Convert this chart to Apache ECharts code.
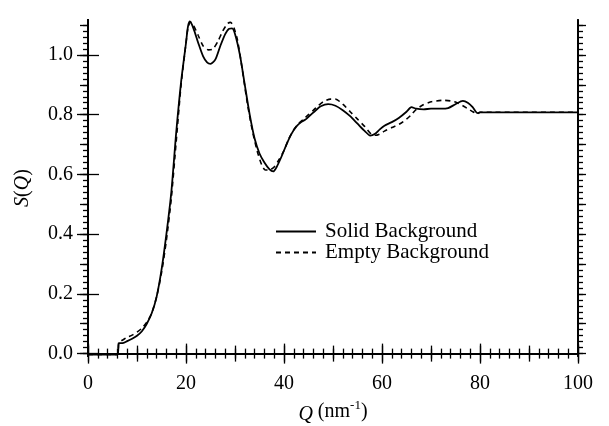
<!DOCTYPE html>
<html>
<head>
<meta charset="utf-8">
<script src="https://cdn.jsdelivr.net/npm/echarts@6/dist/echarts.min.js"></script>
<style>
  html, body { margin: 0; padding: 0; background: #fff; }
  #main { width: 609px; height: 426px; }
</style>
</head>
<body>
<div id="main"></div>
<script>
var chartDom = document.getElementById('main');
var myChart = echarts.init(chartDom);
var option;

// S(Q) with solid background subtraction: [Q, S]
var solidData = [
  [0, -0.003], [6.0, -0.003], [6.3, 0.035], [7, 0.035], [8, 0.042], [9, 0.05],
  [10, 0.06], [11, 0.075], [12, 0.1], [13, 0.135], [14, 0.19], [15, 0.28],
  [16, 0.4], [17, 0.54], [18, 0.74], [19, 0.91], [20, 1.04], [20.4, 1.095],
  [20.8, 1.112], [21.5, 1.09], [22.5, 1.04], [23.5, 0.995], [24.3, 0.975],
  [25, 0.97], [26, 0.985], [27, 1.03], [28, 1.07], [28.8, 1.088], [29.4, 1.089],
  [30, 1.07], [31, 1.0], [32, 0.9], [33, 0.8], [34, 0.72], [35, 0.67],
  [36, 0.64], [37, 0.618], [37.8, 0.61], [38.5, 0.625], [39.5, 0.66],
  [40.5, 0.7], [41.5, 0.735], [42.5, 0.76], [43.5, 0.775], [44.5, 0.785],
  [45.5, 0.8], [46.5, 0.815], [47.5, 0.828], [49, 0.835], [50.5, 0.83],
  [52, 0.815], [53.5, 0.795], [55, 0.77], [56.5, 0.745], [57.6, 0.73],
  [58.5, 0.735], [59.5, 0.75], [60.5, 0.763], [62, 0.775], [63.5, 0.79],
  [65, 0.81], [66, 0.825], [67, 0.82], [68.5, 0.818], [70, 0.82], [72, 0.82],
  [73.5, 0.822], [75, 0.835], [76.5, 0.846], [77.5, 0.84], [78.5, 0.825],
  [79.5, 0.805], [80, 0.808], [100, 0.808]
];

// S(Q) with empty background subtraction: [Q, S]
var emptyData = [
  [0, -0.003], [6.0, -0.003], [6.3, 0.04], [7, 0.045], [8, 0.055], [9, 0.062],
  [10, 0.072], [11, 0.085], [12, 0.105], [13, 0.135], [14, 0.19], [15, 0.27],
  [16, 0.38], [17, 0.52], [18, 0.71], [19, 0.9], [20, 1.04], [20.4, 1.09],
  [20.9, 1.11], [21.5, 1.1], [22.5, 1.065], [23.5, 1.03], [24.6, 1.017],
  [25.5, 1.02], [26.5, 1.045], [27.5, 1.08], [28.5, 1.105], [29.1, 1.109],
  [29.8, 1.09], [30.5, 1.05], [31.5, 0.95], [32.5, 0.84], [33.5, 0.75],
  [34.5, 0.68], [35.5, 0.63], [36.2, 0.615], [37, 0.615], [38, 0.625],
  [39, 0.65], [40, 0.68], [41, 0.72], [42, 0.75], [43, 0.77], [44, 0.785],
  [45, 0.8], [46, 0.815], [47, 0.83], [48, 0.843], [49.5, 0.852], [50.5, 0.852],
  [52, 0.835], [53.5, 0.81], [55, 0.785], [56.5, 0.76], [57.8, 0.735],
  [58.6, 0.731], [59.5, 0.735], [60.5, 0.745], [62, 0.757], [63.5, 0.768],
  [65, 0.785], [66, 0.8], [67, 0.818], [68.4, 0.833], [70, 0.843], [72.5, 0.848],
  [74, 0.846], [75.2, 0.841], [76.5, 0.83], [77.5, 0.82], [78.3, 0.812],
  [79.5, 0.803], [80, 0.808], [100, 0.808]
];

var seriesNames = ['Solid Background', 'Empty Background'];
var yLabelValues = [0, 0.2, 0.4, 0.6, 0.8, 1.0];
var yMin = -0.008;
var yMax = 1.117;

var yMidValues = [];
var yMinorValues = [];
for (var k = 0; k <= 55; k++) {
  yMinorValues.push(Math.round(k * 2) / 100);
  if (k % 5 === 0) yMidValues.push(Math.round(k * 2) / 100);
}

var font = 'Liberation Serif, Times New Roman, serif';
var axisLine = { show: true, lineStyle: { color: '#000', width: 1.8 } };

function tickAxis(position, values, len) {
  return {
    type: 'value', position: position, min: yMin, max: yMax,
    axisLine: axisLine,
    splitLine: { show: false },
    axisLabel: { show: false },
    axisTick: { show: true, customValues: values, length: len, lineStyle: { color: '#000', width: 1.3 } }
  };
}

function xTickAxis(position, interval, len, minor) {
  return {
    type: 'value', position: position, min: 0, max: 100, interval: interval,
    axisLine: axisLine,
    splitLine: { show: false },
    axisLabel: { show: false },
    axisTick: { show: true, length: len, lineStyle: { color: '#000', width: 1.3 } },
    minorTick: { show: minor, splitNumber: 10, length: 5, lineStyle: { color: '#000', width: 1.3 } },
    minorSplitLine: { show: false }
  };
}

option = {
  animation: false,
  backgroundColor: '#fff',
  grid: { left: 88, right: 31, top: 20, bottom: 70, containLabel: false, outerBoundsMode: 'none' },
  legend: {
    data: seriesNames,
    orient: 'vertical',
    left: 275,
    top: 221,
    padding: 0,
    itemWidth: 40,
    itemHeight: 20,
    itemGap: 0,
    itemStyle: { opacity: 0 },
    textStyle: { fontFamily: font, fontSize: 21, color: '#000', padding: [0, 0, 0, 4] }
  },
  xAxis: [
    {
      type: 'value', position: 'bottom', min: 0, max: 100, interval: 20,
      name: '{i|Q} (nm{sup|-1})',
      nameLocation: 'middle',
      nameGap: 40,
      nameTextStyle: {
        fontFamily: font, fontSize: 20, color: '#000',
        rich: {
          i: { fontFamily: font, fontSize: 20, fontStyle: 'italic', color: '#000', lineHeight: 26, verticalAlign: 'bottom' },
          sup: { fontFamily: font, fontSize: 13, color: '#000', verticalAlign: 'top', lineHeight: 13 }
        }
      },
      axisLine: axisLine,
      splitLine: { show: false },
      axisLabel: { fontFamily: font, fontSize: 20, color: '#000', margin: 18 },
      axisTick: { show: true, length: 10, lineStyle: { color: '#000', width: 1.3 } },
      minorTick: { show: true, splitNumber: 10, length: 5, lineStyle: { color: '#000', width: 1.3 } },
      minorSplitLine: { show: false }
    },
    xTickAxis('bottom', 10, 8, false),
    xTickAxis('top', 20, 10, true),
    xTickAxis('top', 10, 8, false)
  ],
  yAxis: [
    {
      type: 'value', position: 'left', min: yMin, max: yMax,
      name: '{i|S}({i|Q})',
      nameLocation: 'middle',
      nameGap: 55,
      nameTextStyle: {
        fontFamily: font, fontSize: 20, color: '#000',
        rich: {
          i: { fontFamily: font, fontSize: 20, fontStyle: 'italic', color: '#000' }
        }
      },
      axisLine: axisLine,
      splitLine: { show: false },
      axisLabel: {
        customValues: yLabelValues,
        fontFamily: font, fontSize: 20, color: '#000', margin: 15,
        formatter: function (v) { return v.toFixed(1); }
      },
      axisTick: { show: true, customValues: yLabelValues, length: 11, lineStyle: { color: '#000', width: 1.3 } }
    },
    tickAxis('left', yMidValues, 8),
    tickAxis('left', yMinorValues, 5),
    tickAxis('right', yLabelValues, 11),
    tickAxis('right', yMidValues, 8),
    tickAxis('right', yMinorValues, 5)
  ],
  series: [
    {
      name: seriesNames[0],
      type: 'line',
      data: solidData,
      symbol: 'none',
      smooth: 0.25,
      lineStyle: { color: '#000', width: 1.8, type: 'solid' },
      itemStyle: { color: '#000' },
      z: 3
    },
    {
      name: seriesNames[1],
      type: 'line',
      data: emptyData,
      symbol: 'none',
      smooth: 0.25,
      lineStyle: { color: '#000', width: 1.6, type: [5, 4] },
      itemStyle: { color: '#000' },
      z: 4
    }
  ]
};

option && myChart.setOption(option);
</script>
</body>
</html>
